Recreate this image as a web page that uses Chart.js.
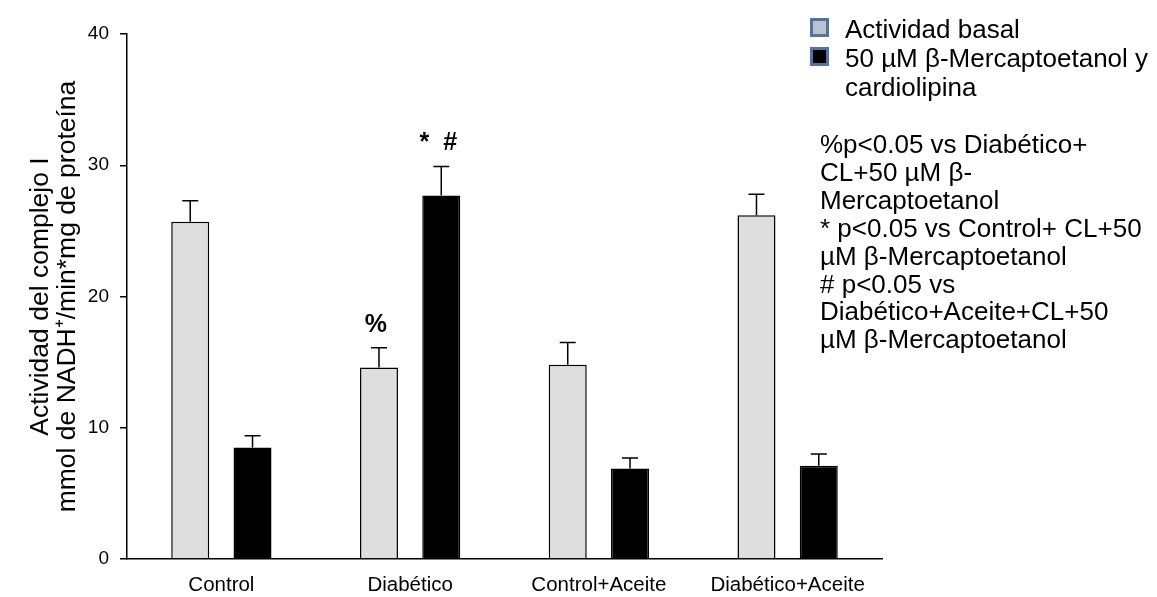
<!DOCTYPE html>
<html>
<head>
<meta charset="utf-8">
<script src="https://cdn.jsdelivr.net/npm/chart.js@4.4.1/dist/chart.umd.min.js"></script>
<style>
  body { margin: 0; background: #fff; font-family: "Liberation Sans", Arial, sans-serif; }
  .wrap { position: relative; width: 1157px; height: 597px; }
  canvas { position: absolute; left: 0; top: 0; }
  .legend { position: absolute; left: 810px; top: 15px; font-size: 26px; line-height: 29px; color: #000; white-space: nowrap; }
  .legend .row { position: relative; padding-left: 35px; }
  .legend .key { position: absolute; left: 0; top: 3px; width: 13px; height: 13px; border: 3px solid #5173a0; }
  .notes { position: absolute; left: 820px; top: 131px; font-size: 26px; line-height: 27.9px; color: #000; white-space: nowrap; }
</style>
</head>
<body>
<div class="wrap">
  <canvas id="myChart" width="1157" height="597"></canvas>
  <div class="legend">
    <div class="row"><span class="key" style="background:#bac2d2"></span>Actividad basal</div>
    <div class="row"><span class="key" style="background:#000"></span>50 µM β-Mercaptoetanol y<br>cardiolipina</div>
  </div>
  <div class="notes">
    %p&lt;0.05 vs Diabético+<br>CL+50 µM β-<br>Mercaptoetanol<br>* p&lt;0.05 vs Control+ CL+50<br>µM β-Mercaptoetanol<br># p&lt;0.05 vs<br>Diabético+Aceite+CL+50<br>µM β-Mercaptoetanol
  </div>
</div>
<script>
const categories = ["Control", "Diabético", "Control+Aceite", "Diabético+Aceite"];
const basal = [25.7, 14.6, 14.8, 26.2];
const basalErr = [1.6, 1.5, 1.7, 1.6];
const mercapto = [8.5, 27.7, 6.9, 7.1];
const mercaptoErr = [0.9, 2.2, 0.8, 0.9];
const basalMarks = ["", "%", "", ""];
const mercaptoMarks = ["", "*  #", "", ""];
const yTicks = [0, 10, 20, 30, 40];

const fontFamily = '"Liberation Sans", Arial, sans-serif';

// error bars (upper only) and significance marks above them
const errorBars = {
  id: "errorBars",
  afterDatasetsDraw(chart) {
    const ctx = chart.ctx;
    const yScale = chart.scales.y;
    chart.data.datasets.forEach((ds, i) => {
      const meta = chart.getDatasetMeta(i);
      meta.data.forEach((bar, j) => {
        const top = yScale.getPixelForValue(ds.data[j] + ds.errors[j]);
        ctx.save();
        ctx.strokeStyle = "#000";
        ctx.lineWidth = 1.5;
        ctx.beginPath();
        ctx.moveTo(bar.x, bar.y);
        ctx.lineTo(bar.x, top);
        ctx.moveTo(bar.x - 8, top);
        ctx.lineTo(bar.x + 8, top);
        ctx.stroke();
        if (ds.marks[j]) {
          ctx.fillStyle = "#000";
          ctx.font = "bold 25px " + fontFamily;
          ctx.textAlign = "center";
          ctx.textBaseline = "middle";
          ctx.fillText(ds.marks[j], bar.x - 3, top - 23);
        }
        ctx.restore();
      });
    });
  },
};

const chartDOM = document.getElementById("myChart");
const chart = new Chart(chartDOM, {
  type: "bar",
  data: {
    labels: categories,
    datasets: [
      {
        label: "Actividad basal",
        data: basal,
        errors: basalErr,
        marks: basalMarks,
        backgroundColor: "#dedede",
        borderColor: "#000",
        borderWidth: 1.5,
        categoryPercentage: 0.66,
        barPercentage: 0.61,
      },
      {
        label: "50 µM β-Mercaptoetanol y cardiolipina",
        data: mercapto,
        errors: mercaptoErr,
        marks: mercaptoMarks,
        backgroundColor: "#000",
        borderColor: "#000",
        borderWidth: 1.5,
        categoryPercentage: 0.66,
        barPercentage: 0.61,
      },
    ],
  },
  options: {
    responsive: false,
    animation: false,
    layout: { padding: { left: 0, right: 275, top: 34, bottom: 0 } },
    plugins: { legend: { display: false }, tooltip: { enabled: false } },
    scales: {
      x: {
        grid: { display: false },
        border: { display: true, color: "#000", width: 1.5 },
        ticks: { color: "#000", font: { family: fontFamily, size: 20.5 }, padding: 6, maxRotation: 0 },
        afterFit(scale) { scale.height = 38; },
      },
      y: {
        min: 0,
        max: 40,
        afterBuildTicks(scale) { scale.ticks = yTicks.map((v) => ({ value: v })); },
        grid: { display: true, drawOnChartArea: false, drawTicks: true, tickLength: 7, color: "#000", lineWidth: 1.5 },
        border: { display: true, color: "#000", width: 1.5 },
        ticks: { color: "#000", font: { family: fontFamily, size: 19 }, padding: 11 },
        title: {
          display: true,
          text: ["Actividad del complejo I", "mmol de NADH⁺/min*mg de proteína"],
          color: "#000",
          font: { family: fontFamily, size: 26.5, lineHeight: 1.03 },
          padding: { top: 27, bottom: 0 },
        },
        afterFit(scale) { scale.width = 127; },
      },
    },
  },
  plugins: [errorBars],
});
</script>
</body>
</html>
